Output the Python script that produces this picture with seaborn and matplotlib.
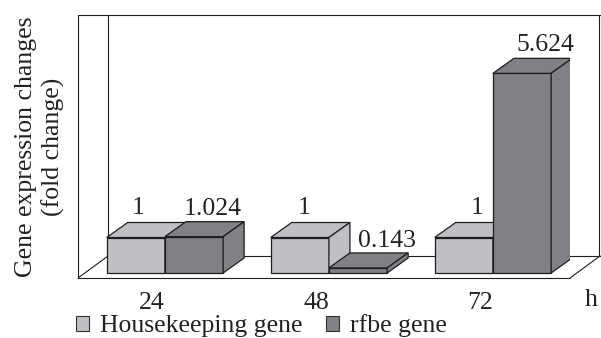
import numpy as np
import pandas as pd
import matplotlib
matplotlib.use("Agg")
import matplotlib.pyplot as plt
import seaborn as sns
from matplotlib.patches import Polygon, Patch
from matplotlib.lines import Line2D
from matplotlib.transforms import ScaledTranslation

# ---- data ----
times = ["24", "48", "72"]
housekeeping = [1, 1, 1]
rfbe = [1.024, 0.143, 5.624]
hk_labels = ["1", "1", "1"]
rfbe_labels = ["1.024", "0.143", "5.624"]
series_names = ["Housekeeping gene", "rfbe gene"]

# ---- style ----
colors = ["#c0c0c4", "#808086"]
edge = "#1e1e1e"
txt = "#222222"
FS = 18.5

sns.set_theme(style="white")
plt.rcParams["font.family"] = ["Liberation Serif", "DejaVu Serif"]

df = pd.DataFrame({
    "time": times * 2,
    "fold": housekeeping + rfbe,
    "gene": [series_names[0]] * len(times) + [series_names[1]] * len(times),
})

W, H = 601, 338
fig = plt.figure(figsize=(W / 100, H / 100), dpi=100)
ax = fig.add_axes([78 / W, (H - 278) / H, 492 / W, 263 / H])

sns.barplot(data=df, x="time", y="fold", hue="gene", palette=colors,
            width=0.71, saturation=1, edgecolor=edge, linewidth=0.9,
            legend=False, ax=ax)

ppu = 35.5  # pixels per unit
ax.set_ylim(-5 / ppu, -5 / ppu + 263 / ppu)
ax.set_xlim(-0.53, 2.47)
for s in ax.spines.values():
    s.set_visible(False)
ax.set_yticks([])
ax.set_xlabel("")
ax.set_ylabel("")
ax.tick_params(axis="x", length=0, pad=10, labelsize=FS, labelcolor=txt)
for lab in ax.get_xticklabels():
    lab.set_transform(lab.get_transform() + ScaledTranslation(-13 / 100, 0, fig.dpi_scale_trans))

# depth offset in data units
inv = ax.transData.inverted()
o = inv.transform((0, 0))
d = inv.transform((21, 15)) - o
dx, dy = d[0], d[1]

# 3D walls/frame (axes coordinates)
wx = 30 / 492
wy = 22 / 263
frame = [
    ((0, 0), (0, 1)),
    ((0, 1.07), (1, 1)),
    ((0, 1), (0, 0)),
    ((wx, wx), (wy, 1)),
    ((wx, 1.07), (wy, wy)),
    ((0, wx), (0, wy)),
    ((1, 1 + wx), (0, wy)),
    ((1 + wx - 0.002, 1 + wx - 0.002), (wy, 1)),
]
for xs, ys in frame:
    ax.add_line(Line2D(xs, ys, transform=ax.transAxes, color=edge, lw=0.8,
                       clip_on=False, zorder=1))

# extrude bars
label_sets = [hk_labels, rfbe_labels]
nudges = [[(-8, 0), (-6, 0), (3, 0)], [(8, -2), (18, -3), (13, -2)]]
for k, cont in enumerate(ax.containers):
    for j, p in enumerate(cont):
        x0, y0 = p.get_x(), p.get_y()
        w, h = p.get_width(), p.get_height()
        fc = p.get_facecolor()
        p.set_zorder(2 + 2 * k)
        top = Polygon([(x0, h), (x0 + w, h), (x0 + w + dx, h + dy), (x0 + dx, h + dy)],
                      closed=True, fc=fc, ec=edge, lw=0.9, zorder=2.5 + 2 * k)
        side = Polygon([(x0 + w, y0), (x0 + w + dx, y0 + dy), (x0 + w + dx, h + dy), (x0 + w, h)],
                       closed=True, fc=fc, ec=edge, lw=0.9, zorder=2.5 + 2 * k)
        ax.add_patch(top)
        ax.add_patch(side)
        nx, ny = nudges[k][j]
        ax.annotate(label_sets[k][j], (x0 + w / 2 + dx / 2, h + dy),
                    xytext=(nx * 0.72, (4 + ny) * 0.72), textcoords="offset points",
                    ha="center", va="bottom", fontsize=FS, color=txt, zorder=8)

fig.text(40 / W, 1 - 146.5 / H, "Gene expression changes\n(fold change)",
         rotation=90, ha="center", va="center", fontsize=FS, color=txt,
         linespacing=1.25, multialignment="center")
fig.text(585 / W, 1 - 306 / H, "h", ha="left", va="baseline", fontsize=FS, color=txt)

handles = [Patch(facecolor=c, edgecolor="#333333", linewidth=0.8) for c in colors]
fig.legend(handles, series_names, loc="upper left", bbox_to_anchor=(76 / W, 1 - 314.5 / H),
           ncol=2, frameon=False, handlelength=0.5, handleheight=0.5,
           handletextpad=0.45, columnspacing=0.9, fontsize=FS, borderaxespad=0,
           borderpad=0, labelcolor=txt)

fig.savefig("out.png", dpi=100)
